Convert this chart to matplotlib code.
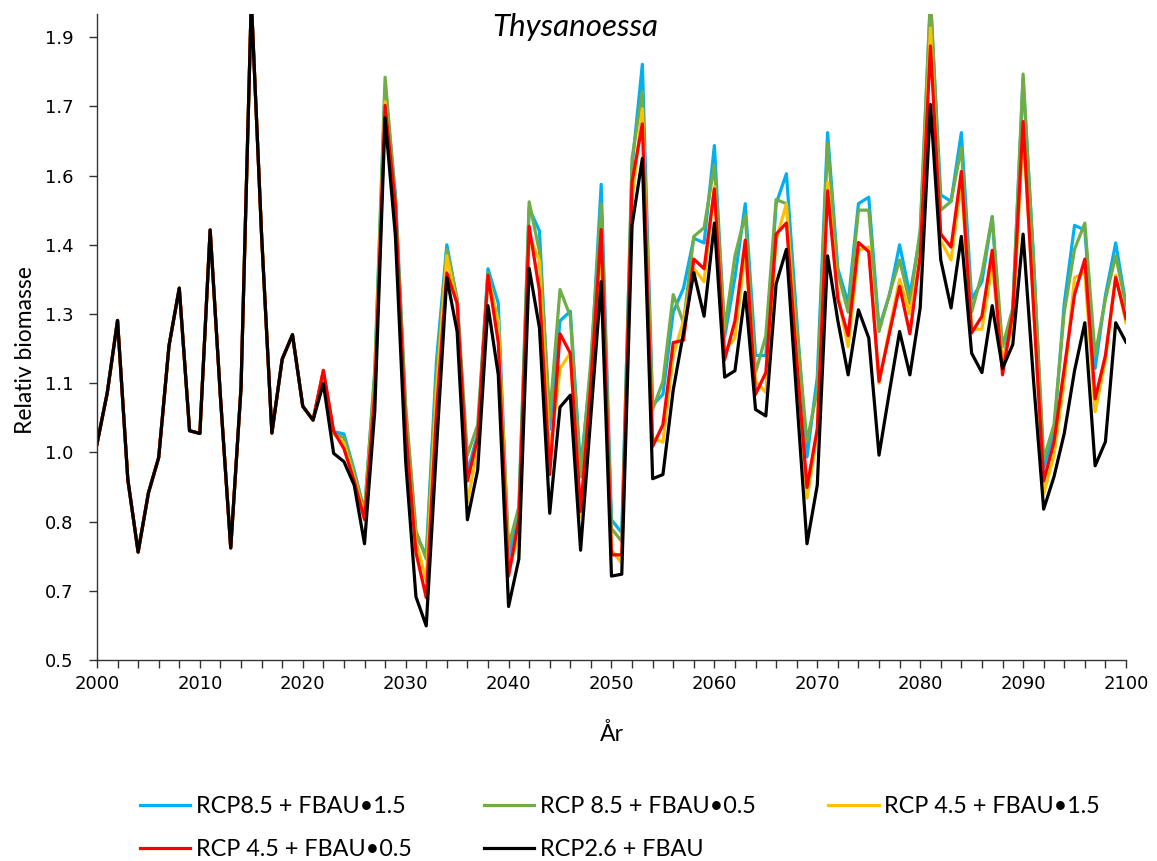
import matplotlib
matplotlib.use("Agg")
import matplotlib.pyplot as plt
from matplotlib.ticker import FixedLocator, FixedFormatter, MultipleLocator

# felles historisk periode 2000-2021
historisk = [0.968, 1.079, 1.236, 0.891, 0.734, 0.862, 0.939, 1.181, 1.306, 0.997,
             0.991, 1.432, 1.070, 0.743, 1.090, 1.930, 1.420, 0.992, 1.152, 1.205,
             1.050, 1.020]

# scenarier 2022-2100
rcp85_15 = [1.125, 0.995, 0.990, 0.911, 0.822, 1.120, 1.740, 1.510, 1.040, 0.770,
            0.728, 1.150, 1.400, 1.280, 0.907, 0.990, 1.348, 1.273, 0.720, 0.820,
            1.479, 1.430, 1.000, 1.235, 1.256, 0.916, 1.130, 1.531, 0.804, 0.776,
            1.570, 1.791, 1.052, 1.076, 1.254, 1.306, 1.414, 1.404, 1.615, 1.200,
            1.329, 1.489, 1.160, 1.160, 1.489, 1.554, 1.240, 0.940, 1.113, 1.643,
            1.348, 1.273, 1.489, 1.503, 1.220, 1.290, 1.400, 1.292, 1.420, 1.930,
            1.508, 1.494, 1.643, 1.282, 1.320, 1.461, 1.137, 1.260, 1.760, 1.380,
            0.916, 0.991, 1.273, 1.442, 1.432, 1.132, 1.290, 1.404, 1.270]

rcp85_05 = [1.125, 0.990, 0.982, 0.905, 0.822, 1.130, 1.763, 1.500, 1.050, 0.780,
            0.719, 1.120, 1.390, 1.282, 0.944, 1.010, 1.340, 1.220, 0.747, 0.832,
            1.493, 1.385, 1.029, 1.303, 1.245, 0.897, 1.150, 1.489, 0.785, 0.757,
            1.587, 1.733, 1.043, 1.104, 1.292, 1.231, 1.418, 1.437, 1.573, 1.217,
            1.376, 1.465, 1.123, 1.203, 1.498, 1.489, 1.220, 0.973, 1.085, 1.620,
            1.338, 1.254, 1.475, 1.475, 1.212, 1.292, 1.367, 1.273, 1.432, 1.940,
            1.475, 1.494, 1.611, 1.254, 1.338, 1.461, 1.179, 1.263, 1.770, 1.370,
            0.935, 1.010, 1.254, 1.390, 1.447, 1.160, 1.282, 1.376, 1.268]

rcp45_15 = [1.125, 0.990, 0.970, 0.895, 0.812, 1.090, 1.710, 1.480, 0.990, 0.757,
            0.672, 1.085, 1.376, 1.270, 0.841, 0.960, 1.330, 1.235, 0.700, 0.766,
            1.420, 1.365, 0.944, 1.132, 1.165, 0.810, 1.080, 1.404, 0.738, 0.710,
            1.498, 1.695, 0.982, 0.972, 1.160, 1.235, 1.348, 1.320, 1.526, 1.170,
            1.198, 1.386, 1.104, 1.080, 1.410, 1.489, 1.160, 0.851, 0.990, 1.535,
            1.290, 1.179, 1.388, 1.395, 1.100, 1.215, 1.325, 1.250, 1.370, 1.870,
            1.409, 1.367, 1.535, 1.217, 1.217, 1.357, 1.150, 1.220, 1.648, 1.280,
            0.860, 0.944, 1.104, 1.329, 1.339, 1.038, 1.150, 1.334, 1.231]

rcp45_05 = [1.128, 0.996, 0.958, 0.888, 0.804, 1.080, 1.702, 1.488, 1.000, 0.733,
            0.635, 1.040, 1.339, 1.273, 0.888, 0.982, 1.334, 1.188, 0.682, 0.804,
            1.440, 1.300, 0.902, 1.207, 1.165, 0.822, 1.100, 1.433, 0.728, 0.728,
            1.536, 1.662, 0.963, 1.010, 1.188, 1.193, 1.369, 1.348, 1.521, 1.151,
            1.235, 1.410, 1.076, 1.123, 1.423, 1.447, 1.150, 0.874, 1.001, 1.517,
            1.282, 1.203, 1.405, 1.385, 1.104, 1.207, 1.310, 1.207, 1.376, 1.831,
            1.423, 1.395, 1.559, 1.209, 1.245, 1.388, 1.118, 1.254, 1.667, 1.270,
            0.888, 0.972, 1.132, 1.292, 1.369, 1.066, 1.160, 1.329, 1.240]

rcp26 = [1.099, 0.948, 0.930, 0.879, 0.752, 1.040, 1.675, 1.420, 0.930, 0.637,
         0.574, 0.960, 1.329, 1.212, 0.804, 0.912, 1.268, 1.118, 0.616, 0.719,
         1.349, 1.220, 0.818, 1.048, 1.074, 0.738, 1.030, 1.320, 0.682, 0.686,
         1.442, 1.587, 0.893, 0.902, 1.085, 1.210, 1.340, 1.245, 1.447, 1.113,
         1.127, 1.297, 1.043, 1.029, 1.315, 1.390, 1.070, 0.752, 0.879, 1.376,
         1.235, 1.118, 1.259, 1.198, 0.944, 1.080, 1.212, 1.118, 1.263, 1.704,
         1.367, 1.263, 1.418, 1.165, 1.123, 1.268, 1.132, 1.184, 1.423, 1.110,
         0.827, 0.897, 0.991, 1.127, 1.231, 0.921, 0.973, 1.231, 1.189]

aar = list(range(2000, 2101))

navn = ["RCP8.5 + FBAU\u20221.5", "RCP 8.5 + FBAU\u20220.5", "RCP 4.5 + FBAU\u20221.5",
        "RCP 4.5 + FBAU\u20220.5", "RCP2.6 + FBAU"]
farger = ["#00B0F0", "#70AD47", "#FFC000", "#FF0000", "#000000"]
serier = [rcp85_15, rcp85_05, rcp45_15, rcp45_05, rcp26]

ytikk = [0.5, 0.65, 0.8, 0.95, 1.1, 1.25, 1.4, 1.55, 1.7, 1.85]
ytikk_tekst = ["0.5", "0.7", "0.8", "1.0", "1.1", "1.3", "1.4", "1.6", "1.7", "1.9"]

calibri = ["Lato", "DejaVu Sans"]

fig = plt.figure(figsize=(11.57, 8.61), dpi=100)
ax = fig.add_axes([0.0838, 0.2334, 0.8894, 0.7503])

linjer = []
for s, n, f in zip(serier, navn, farger):
    y = historisk + s
    l, = ax.plot(aar, y, color=f, lw=2.3, label=n, solid_joinstyle="round")
    linjer.append(l)

ax.set_xlim(2000, 2100)
ax.set_ylim(0.5, 1.9)
ax.xaxis.set_major_locator(MultipleLocator(10))
ax.xaxis.set_minor_locator(MultipleLocator(2))
ax.yaxis.set_major_locator(FixedLocator(ytikk))
ax.yaxis.set_major_formatter(FixedFormatter(ytikk_tekst))
ax.tick_params(axis="both", which="both", direction="out", length=6, width=1,
               labelsize=13, color="#333333")
ax.tick_params(axis="x", pad=5)
ax.tick_params(axis="y", pad=11)

for side in ["top", "right"]:
    ax.spines[side].set_visible(False)
for side in ["left", "bottom"]:
    ax.spines[side].set_linewidth(1)
    ax.spines[side].set_color("#333333")

ax.set_ylabel("Relativ biomasse", fontsize=16.5, family=calibri)
ax.yaxis.set_label_coords(-0.059, 0.48)
ax.set_xlabel("\u00c5r", fontsize=16.5, family=calibri)
ax.xaxis.set_label_coords(0.5, -0.097)

fig.text(0.497, 1 - 27 / 861, "Thysanoessa", ha="center", va="center",
         fontsize=22.5, style="italic", family=calibri)

# legend fylles kolonnevis, så rekkefølgen byttes for radvis visning
rekkef = [0, 3, 1, 4, 2]
fig.legend([linjer[i] for i in rekkef], [navn[i] for i in rekkef],
           loc="center", bbox_to_anchor=(620 / 1157, 1 - 828 / 861), ncol=3,
           frameon=False, prop={"family": calibri, "size": 16.8},
           handlelength=2.15, handletextpad=0.25, columnspacing=3.1,
           labelspacing=0.95)

fig.savefig("out.png", dpi=100)
